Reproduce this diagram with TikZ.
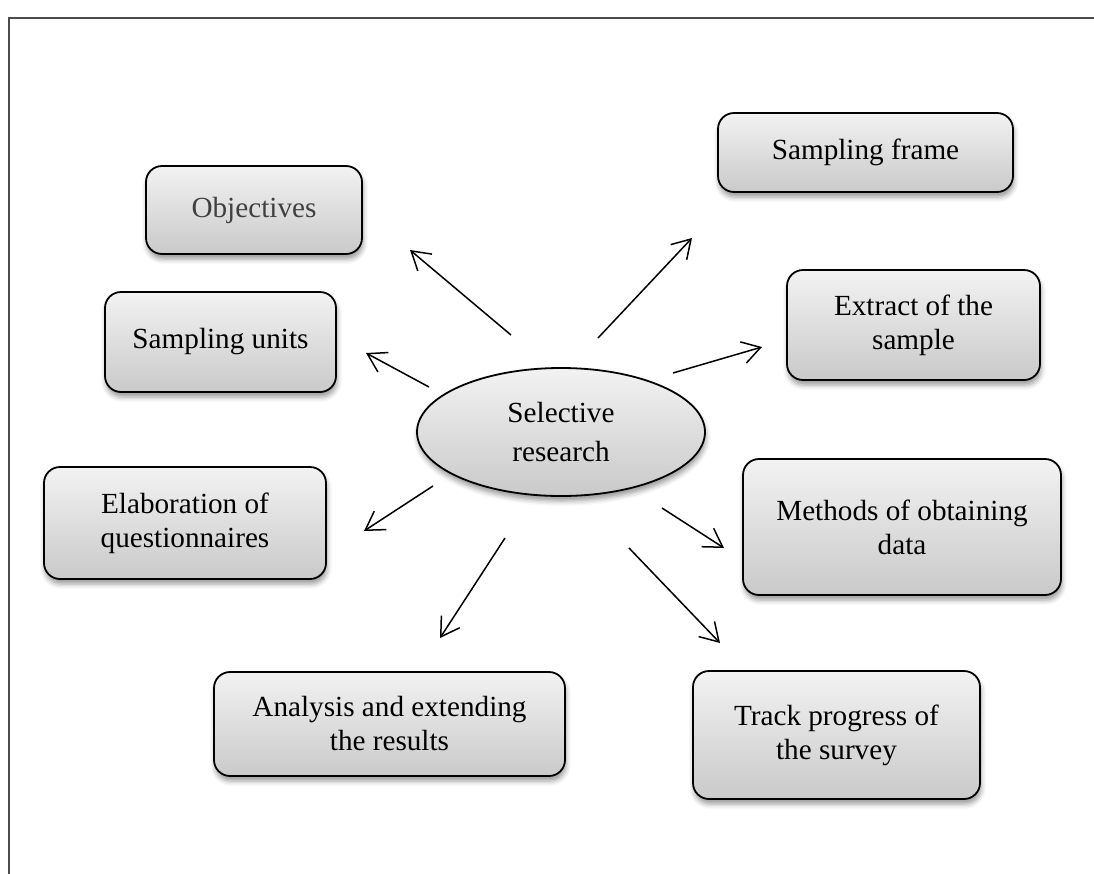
\documentclass[tikz,border=0pt]{standalone}
\usepackage{fontspec}
\setmainfont{Liberation Serif}
\usetikzlibrary{arrows.meta,shapes}
\usetikzlibrary{shadows.blur}
\tikzset{
    stage/.style={draw=black, line width=0.9pt, rounded corners=8pt,
        top color=gray!10, bottom color=gray!42, align=center, inner sep=0pt,
        blur shadow={shadow xshift=0.5pt, shadow yshift=-2.5pt,
            shadow opacity=40, shadow blur radius=2.5pt}},
    hub/.style={ellipse, draw=black, line width=0.9pt,
        top color=gray!10, bottom color=gray!42, align=center, inner sep=0pt,
        blur shadow={shadow xshift=0.5pt, shadow yshift=-2.5pt,
            shadow opacity=40, shadow blur radius=2.5pt}},
    spoke/.style={draw=black, line width=0.75pt,
        -{Straight Barb[length=9pt,width=11pt]}},
    border/.style={draw=black!70, line width=1pt},
}

\begin{document}
\begin{tikzpicture}[x=50pt, y=-50pt, font=\fontsize{14.6pt}{17pt}\selectfont]
\useasboundingbox (0,0) rectangle (10.94,8.74);
%FRAME
\coordinate (fr1) at (10.94,0.18);
\coordinate (fr2) at (0.09,0.18);
\coordinate (fr3) at (0.09,8.74);
\draw [border] (fr1) -- (fr2) -- (fr3);

%CENTRE
\node [hub, minimum width=144pt, minimum height=64pt] (sel) at (5.61,4.32) {Selective\\[2.5pt]research};

%LEFT SIDE
\node [stage, minimum width=108pt, minimum height=44pt, text=black!75] (obj) at (2.54,2.10) {Objectives};
\node [stage, minimum width=115.5pt, minimum height=50pt] (units) at (2.205,3.42) {Sampling units};
\node [stage, minimum width=141pt, minimum height=56pt] (elab) at (1.85,5.23) {Elaboration of\\questionnaires};
\node [stage, minimum width=175.5pt, minimum height=52pt] (anal) at (3.895,7.24) {Analysis and extending\\the results};

%RIGHT SIDE
\node [stage, minimum width=147.5pt, minimum height=39.5pt] (frame) at (8.655,1.525) {Sampling frame};
\node [stage, minimum width=126.5pt, minimum height=55pt] (extr) at (9.135,3.25) {Extract of the\\sample};
\node [stage, minimum width=159pt, minimum height=68pt] (meth) at (9.02,5.27) {Methods of obtaining\\data};
\node [stage, minimum width=143.5pt, minimum height=64pt] (track) at (8.365,7.35) {Track progress of\\the survey};

%ARROWS
\coordinate (obj-a) at (5.11,3.35);
\coordinate (obj-b) at (4.10,2.50);
\draw [spoke] (obj-a) -- (obj-b);
\coordinate (units-a) at (4.29,3.87);
\coordinate (units-b) at (3.66,3.53);
\draw [spoke] (units-a) -- (units-b);
\coordinate (elab-a) at (4.33,4.86);
\coordinate (elab-b) at (3.64,5.31);
\draw [spoke] (elab-a) -- (elab-b);
\coordinate (anal-a) at (5.05,5.38);
\coordinate (anal-b) at (4.40,6.38);
\draw [spoke] (anal-a) -- (anal-b);
\coordinate (frame-a) at (5.98,3.38);
\coordinate (frame-b) at (6.92,2.38);
\draw [spoke] (frame-a) -- (frame-b);
\coordinate (extr-a) at (6.73,3.73);
\coordinate (extr-b) at (7.62,3.47);
\draw [spoke] (extr-a) -- (extr-b);
\coordinate (meth-a) at (6.62,5.08);
\coordinate (meth-b) at (7.24,5.48);
\draw [spoke] (meth-a) -- (meth-b);
\coordinate (track-a) at (6.29,5.48);
\coordinate (track-b) at (7.20,6.43);
\draw [spoke] (track-a) -- (track-b);
\end{tikzpicture}
\end{document}
